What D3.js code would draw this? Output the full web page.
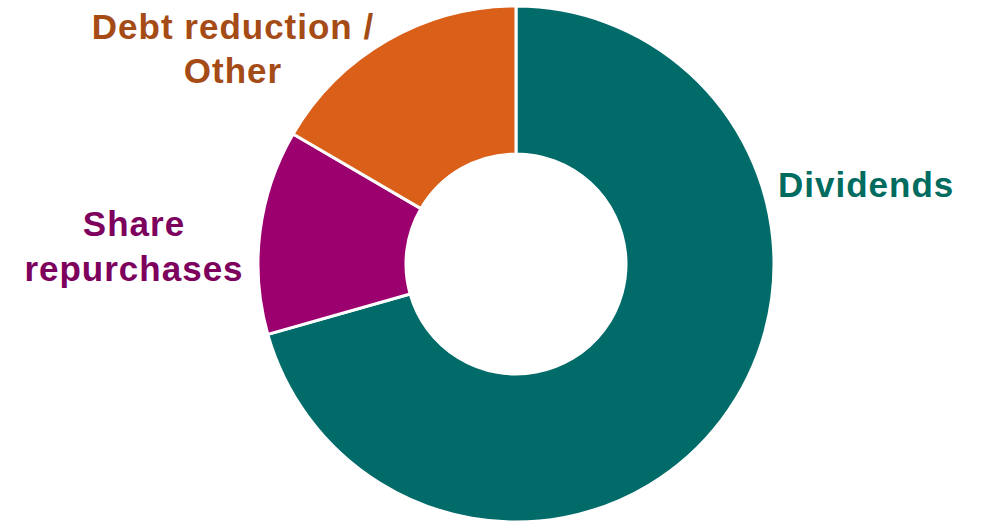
<!DOCTYPE html>
<html>
<head>
<meta charset="utf-8">
<script src="https://cdn.jsdelivr.net/npm/d3@7"></script>
<style>
  body { margin: 0; background: #fff; }
  svg { display: block; }
</style>
</head>
<body>
<svg id="chart" width="982" height="522"></svg>
<script>
var categories = ["Dividends", "Share repurchases", "Debt reduction / Other"];
var values = [70.6, 12.8, 16.6];
var sliceColors = ["#006b68", "#9c006e", "#da5f19"];
var labelColors = ["#006b5f", "#7c005c", "#a54b16"];
var labelLines = [["Dividends"], ["Share", "repurchases"], ["Debt reduction /", "Other"]];

var svg = d3.select("#chart"),
  width = 982,
  height = 522,
  cx = 516,
  cy = 264,
  outerR = 258,
  innerR = 110;

var pie = d3.pie().sort(null).value(function(d) { return d; });
var arc = d3.arc().innerRadius(innerR).outerRadius(outerR);

var g = svg.append("g").attr("transform", "translate(" + cx + "," + cy + ")");

g.selectAll("path")
  .data(pie(values))
  .enter().append("path")
  .attr("d", arc)
  .attr("fill", function(d, i) { return sliceColors[i]; })
  .attr("stroke", "#fff")
  .attr("stroke-width", 3);

// label anchors
var labelPos = [
  { x: 778, y: 197, anchor: "start", gap: 0 },
  { x: 134, y: 236, anchor: "middle", gap: 45 },
  { x: 233, y: 39, anchor: "middle", gap: 44 }
];

var labels = svg.append("g")
  .selectAll("text")
  .data(categories)
  .enter().append("text")
  .attr("x", function(d, i) { return labelPos[i].x; })
  .attr("y", function(d, i) { return labelPos[i].y; })
  .attr("text-anchor", function(d, i) { return labelPos[i].anchor; })
  .attr("fill", function(d, i) { return labelColors[i]; })
  .style("font-family", "'Liberation Sans', Arial, sans-serif")
  .style("font-weight", "bold")
  .style("font-size", "35px")
  .style("letter-spacing", "1px");

labels.each(function(d, i) {
  var t = d3.select(this);
  labelLines[i].forEach(function(line, j) {
    t.append("tspan")
      .attr("x", labelPos[i].x)
      .attr("dy", j === 0 ? 0 : labelPos[i].gap)
      .text(line);
  });
});
</script>
</body>
</html>
